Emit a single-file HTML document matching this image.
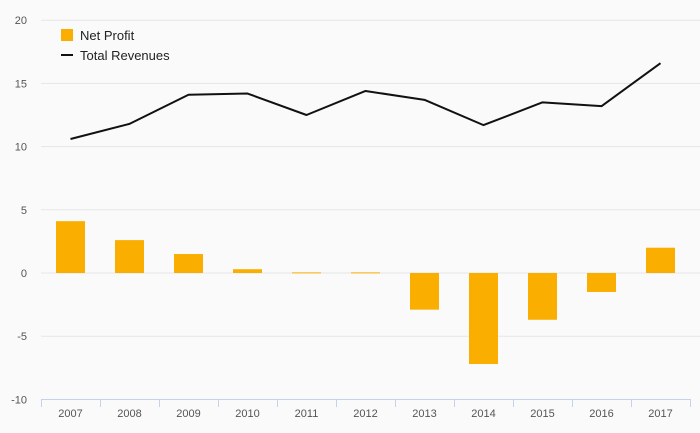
<!DOCTYPE html>
<html><head><meta charset="utf-8"><style>
html,body{margin:0;padding:0;background:#fafafa;}
svg{display:block;font-family:"Liberation Sans",sans-serif;}
</style></head><body>
<svg id="chart" width="700" height="433" xmlns="http://www.w3.org/2000/svg">
<rect width="700" height="433" fill="#fafafa"/>
<g id="grid"></g><g id="bars"></g><g id="line"></g><g id="axis"></g>
<g>
<rect x="61" y="29" width="12" height="12" fill="#f9ae00"/>
<text x="80" y="40" font-size="13" fill="#222">Net Profit</text>
<line x1="61" y1="55" x2="73" y2="55" stroke="#111" stroke-width="2"/>
<text x="80" y="60" font-size="13" fill="#222">Total Revenues</text>
</g>
</svg>
<script>
const categories=["2007","2008","2009","2010","2011","2012","2013","2014","2015","2016","2017"];
const netProfit=[4.1,2.6,1.5,0.3,0.05,0.05,-2.9,-7.2,-3.7,-1.5,2.0];
const totalRevenues=[10.6,11.8,14.1,14.2,12.5,14.4,13.7,11.7,13.5,13.2,16.6];
const yTicks=[20,15,10,5,0,-5,-10];
const NS="http://www.w3.org/2000/svg";
const x0=41,step=59,yZero=273,ppu=12.64;
function y(v){return yZero-v*ppu;}
function xc(i){return x0+step*i+step/2;}
function mk(tag,attrs,parent){const e=document.createElementNS(NS,tag);for(const k in attrs)e.setAttribute(k,attrs[k]);parent.appendChild(e);return e;}
const grid=document.getElementById('grid'),bars=document.getElementById('bars'),line=document.getElementById('line'),axis=document.getElementById('axis');
yTicks.forEach(t=>{
  if(t!==-10){const g=mk('line',{x1:41,x2:700,y1:y(t),y2:y(t),stroke:'#e6e6e6','stroke-width':1},grid);
  
  }
  const l=mk('text',{x:27,y:y(t)+4,'font-size':11,fill:'#555','text-anchor':'end'},axis);
  l.textContent=t;
  
  
});
const ax=mk('line',{x1:41,x2:690,y1:399.5,y2:399.5,stroke:'#c5d3ea','stroke-width':1},axis);


for(let i=0;i<=categories.length;i++){
  const tk=mk('line',{x1:x0+step*i+0.5,x2:x0+step*i+0.5,y1:399,y2:407,stroke:'#c5d3ea','stroke-width':1},axis);
  
  
}
categories.forEach((c,i)=>{
  const t=mk('text',{x:xc(i),y:417,'font-size':11,fill:'#555','text-anchor':'middle'},axis);
  t.textContent=c;
  
  
  const v=netProfit[i],top=Math.min(y(v),yZero),h=Math.abs(y(v)-yZero);
  const b=mk('rect',{x:xc(i)-14.5,y:top,width:29,height:Math.max(h,1),fill:'#f9ae00'},bars);
  
  
});
const pts=totalRevenues.map((v,i)=>xc(i)+','+y(v)).join(' ');
const pl=mk('polyline',{points:pts,fill:'none',stroke:'#111','stroke-width':2,'stroke-linejoin':'round'},line);


</script>
</body></html>
